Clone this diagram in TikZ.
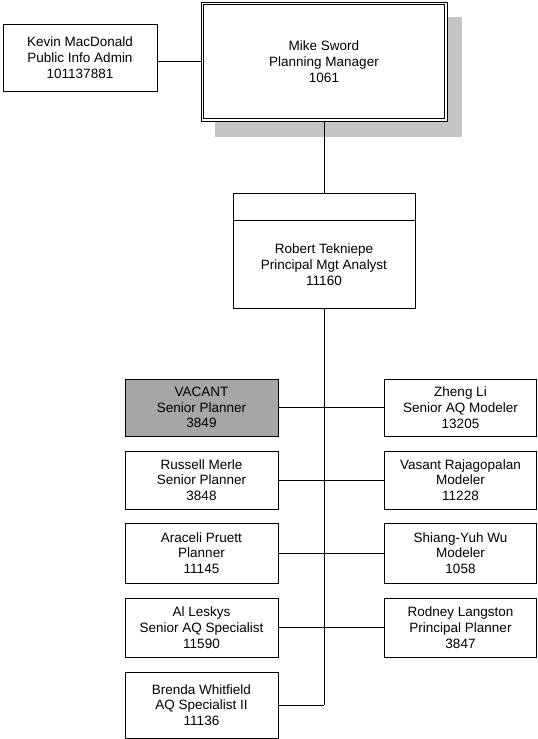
\documentclass[tikz,border=0pt]{standalone}
\usepackage{fontspec}
\setmainfont{Liberation Sans}
\begin{document}
\begin{tikzpicture}[x=1pt,y=1pt]
\tikzset{
  box/.style={draw, line width=1pt, minimum width=153pt, align=center,
    font=\fontsize{13.5}{15.8}\selectfont, inner sep=0pt},
  lbl/.style={align=center, font=\fontsize{13.5}{15.8}\selectfont, inner sep=0pt},
  link/.style={line width=0.8pt},
  vacantfill/.style={fill=black!35},
}
\useasboundingbox (0,0) rectangle (538,-739);
% shadow of Mike's box
\fill[black!23] (215,-17) rectangle (462,-137);
\node[box, fill=white, minimum width=246pt, minimum height=119pt] (mike) at (324,-61.5)
  {Mike Sword\\Planning Manager\\1061};
\draw[line width=1pt] ([shift={(3,-3)}]mike.north west) rectangle ([shift={(-3,3)}]mike.south east);
\node[box, minimum width=154pt, minimum height=67pt] (kevin) at (80,-57.5)
  {Kevin MacDonald\\Public Info Admin\\101137881};
\node[box, minimum width=182pt, minimum height=115pt] (robert) at (324,-250.5) {};
\draw[line width=1pt] ([yshift=-28pt]robert.north west) -- ([yshift=-28pt]robert.north east);
\node[lbl] (roblabel) at (324,-264.5) {Robert Tekniepe\\Principal Mgt Analyst\\11160};
% left column
\node[box, vacantfill, minimum height=57pt] (vacant) at (201.5,-407.5) {VACANT\\Senior Planner\\3849};
\node[box, minimum height=58pt] (russell) at (201.5,-480) {Russell Merle\\Senior Planner\\3848};
\node[box, minimum height=60pt] (araceli) at (201.5,-553) {Araceli Pruett\\Planner\\11145};
\node[box, minimum height=59pt] (al) at (201.5,-627.5) {Al Leskys\\Senior AQ Specialist\\11590};
\node[box, minimum height=66pt] (brenda) at (201.5,-705) {Brenda Whitfield\\AQ Specialist II\\11136};
% right column
\node[box, minimum width=152.5pt, minimum height=57pt] (zheng) at (460.5,-407.5) {Zheng Li\\Senior AQ Modeler\\13205};
\node[box, minimum width=152.5pt, minimum height=58pt] (vasant) at (460.5,-480) {Vasant Rajagopalan\\Modeler\\11228};
\node[box, minimum width=152.5pt, minimum height=60pt] (shiang) at (460.5,-553) {Shiang-Yuh Wu\\Modeler\\1058};
\node[box, minimum width=152.5pt, minimum height=59pt] (rodney) at (460.5,-627.5) {Rodney Langston\\Principal Planner\\3847};
% connectors
\draw[link] (kevin.east |- mike.west) -- (mike.west);
\draw[link] (mike.south) -- (robert.north);
\coordinate (busend) at (robert.south |- brenda.east);
\draw[link] (robert.south) -- (busend);
\draw[link] (brenda.east) -- (busend);
\draw[link] (vacant.east) -- (zheng.west);
\draw[link] (russell.east) -- (vasant.west);
\draw[link] (araceli.east) -- (shiang.west);
\draw[link] (al.east) -- (rodney.west);
\end{tikzpicture}
\end{document}
